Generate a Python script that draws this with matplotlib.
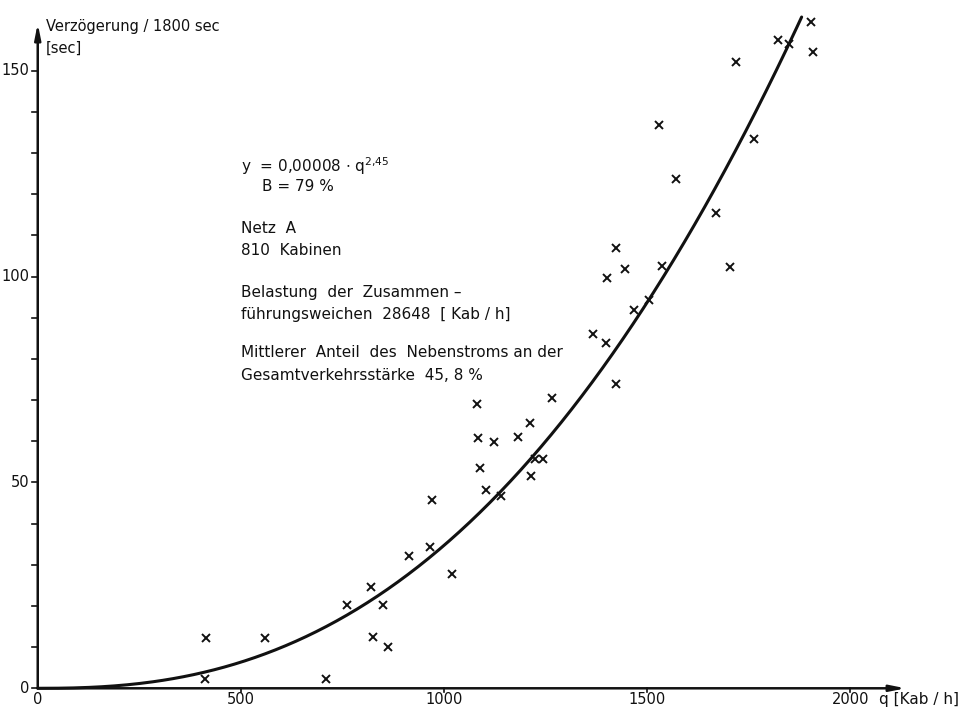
import numpy as np
import matplotlib
matplotlib.use("Agg")
import matplotlib.pyplot as plt

plt.rcParams['font.family'] = ['DejaVu Sans']

# Measured delay per 1800 s versus flow q [Kab/h]
q_values = [415, 412, 559, 709, 762, 819, 824, 849, 863, 913,
            966, 971, 1019, 1080, 1084, 1088, 1103, 1122, 1141, 1183,
            1212, 1214, 1223, 1243, 1265, 1367, 1399, 1402, 1422, 1422,
            1445, 1467, 1505, 1529, 1536, 1572, 1669, 1704, 1718, 1763,
            1822, 1848, 1902, 1907]
delay_values = [12.1, 2.3, 12.1, 2.3, 20.3, 24.5, 12.5, 20.2, 10.1, 32.1,
                34.4, 45.8, 27.8, 69.0, 60.7, 53.5, 48.1, 59.9, 46.7, 61.0,
                64.4, 51.5, 55.7, 55.7, 70.4, 86.0, 83.8, 99.7, 106.9, 73.9,
                101.9, 91.9, 94.3, 136.7, 102.5, 123.6, 115.5, 102.3, 152.2, 133.3,
                157.5, 156.4, 161.8, 154.5]

# Regression y = a * q^b (q evaluated in units of 5 Kab/h)
fit_coef = 0.00008
fit_exp = 2.45
q_unit = 5.0
q_fit_max = 1880

x_ticks = [0, 500, 1000, 1500, 2000]
y_ticks = [0, 50, 100, 150]

W, H = 969, 716
fig = plt.figure(figsize=(W / 100, H / 100), dpi=100)
ax = fig.add_axes([0, 0, 1, 1])
ax.set_xlim(-92.9, 2291.9)
ax.set_ylim(-6.73, 167.18)
ax.axis('off')

fs = 11
num_fs = 10.5
ink = '#111111'

# Axes with arrow heads
ax.annotate('', xy=(2136, 0), xytext=(0, 0),
            arrowprops=dict(arrowstyle='-|>,head_length=0.9,head_width=0.18',
                            lw=1.8, color=ink, shrinkA=0, shrinkB=0))
ax.annotate('', xy=(0, 161.5), xytext=(0, 0),
            arrowprops=dict(arrowstyle='-|>,head_length=0.9,head_width=0.18',
                            lw=1.8, color=ink, shrinkA=0, shrinkB=0))

# Tick marks
xpx = 2.4611  # data units per pixel (x)
ypx = 1 / 4.117  # data units per pixel (y)
for t in x_ticks[1:]:
    ax.plot([t, t], [0, -4 * ypx], color=ink, lw=1.2)
for t in range(0, 160, 10):
    ax.plot([0, -6 * xpx], [t, t], color=ink, lw=1.2)

# Tick labels
for t in x_ticks:
    ax.text(t, -11 * ypx, str(t), ha='center', va='center', color=ink, fontsize=num_fs)
for t in y_ticks:
    ax.text(-8 * xpx, t, str(t), ha='right', va='center', color=ink, fontsize=num_fs)

ax.text(2000 + 29 * xpx, -11 * ypx, 'q [Kab / h]', ha='left', va='center',
        fontsize=fs, color=ink)
ax.text(0 + 8 * xpx, 161.5 - 3 * ypx, 'Verzögerung / 1800 sec', ha='left',
        va='center', fontsize=10.5, color=ink)
ax.text(0 + 8 * xpx, 161.5 - 25 * ypx, '[sec]', ha='left', va='center',
        fontsize=10.5, color=ink)

# Fitted curve
q_curve = np.linspace(0, q_fit_max, 300)
y_curve = fit_coef * (q_curve / q_unit) ** fit_exp
ax.plot(q_curve, y_curve, color=ink, lw=2.2, solid_capstyle='round')

# Observations
ax.plot(q_values, delay_values, linestyle='none', marker='x', markersize=5.5,
        markeredgewidth=1.4, color=ink)

# Annotation block
def px_to_data(px, py):
    return (px - 37.74) * xpx, (688.3 - py) * ypx

lines = [
    (241, 166, r'y  = 0,00008 $\cdot$ q$^{2{,}45}$'),
    (262, 187, 'B = 79 %'),
    (241, 229, 'Netz  A'),
    (241, 251, '810  Kabinen'),
    (241, 293, 'Belastung  der  Zusammen –'),
    (241, 315, 'führungsweichen  28648  [ Kab / h]'),
    (241, 353, 'Mittlerer  Anteil  des  Nebenstroms an der'),
    (241, 376, 'Gesamtverkehrsstärke  45, 8 %'),
]
for px, py, s in lines:
    x, y = px_to_data(px, py)
    ax.text(x, y, s, ha='left', va='center', fontsize=fs, color=ink)

fig.savefig('out.png', dpi=100, facecolor='white')
